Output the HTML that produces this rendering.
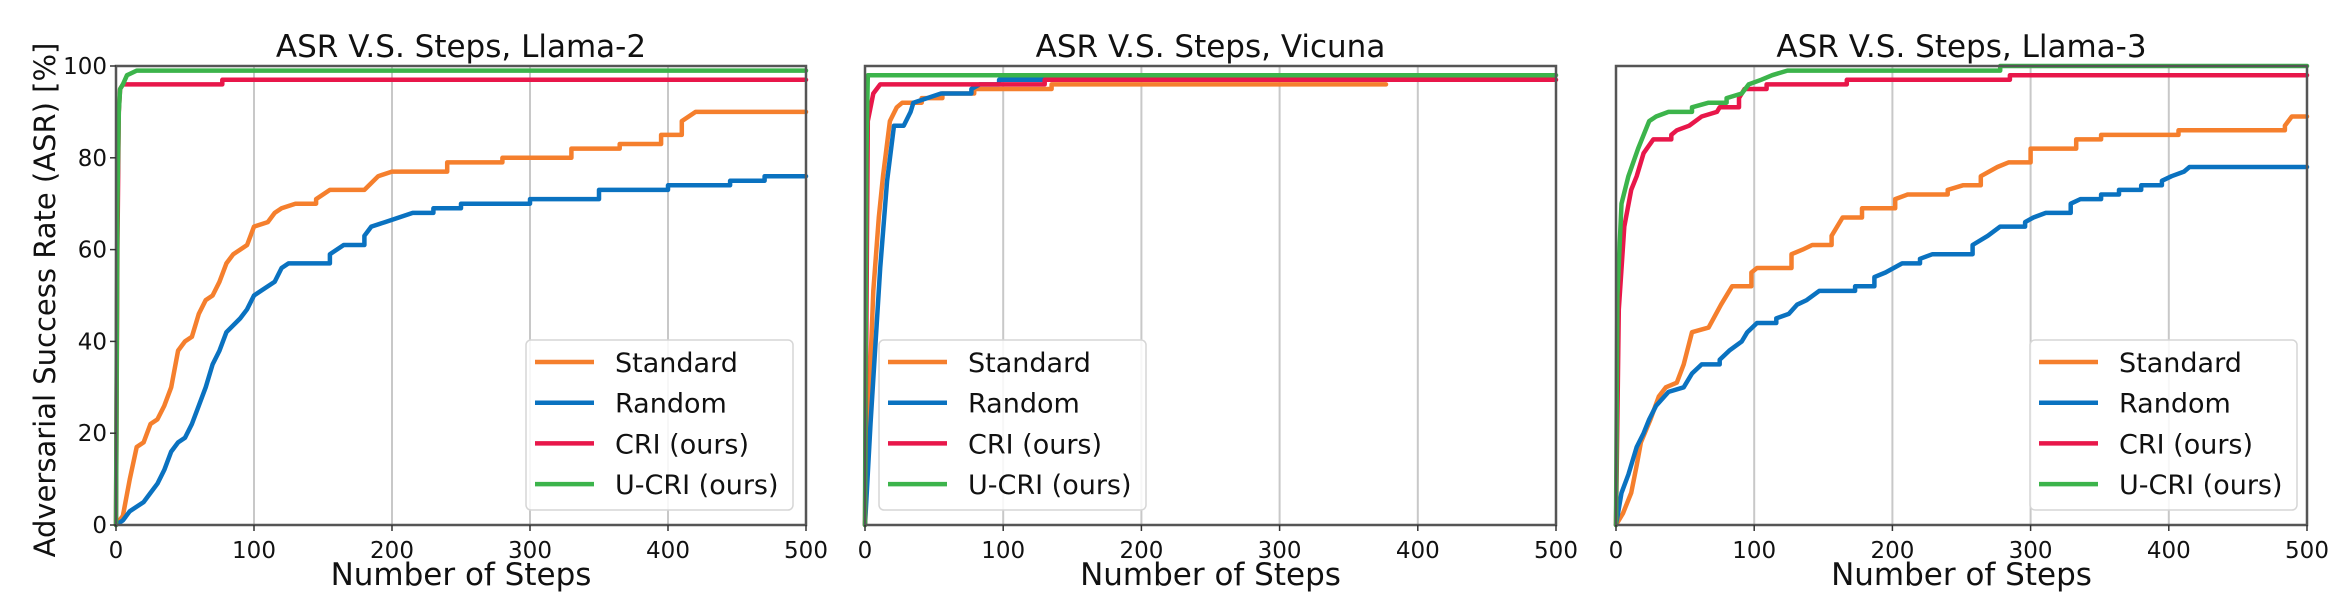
<!DOCTYPE html>
<html><head><meta charset="utf-8"><style>
html,body{margin:0;padding:0;background:#fff;}
svg{display:block;font-family:"DejaVu Sans","Liberation Sans",sans-serif;}
</style></head><body>
<svg id="chart" width="2346" height="608" viewBox="0 0 2346 608" xmlns="http://www.w3.org/2000/svg"></svg>
<script>
// ---- data ----
const xTicks = [0,100,200,300,400,500];
const yTicks = [0,20,40,60,80,100];
const seriesNames = ["Standard","Random","CRI (ours)","U-CRI (ours)"];
const panelTitles = ["ASR V.S. Steps, Llama-2","ASR V.S. Steps, Vicuna","ASR V.S. Steps, Llama-3"];

// Llama-2
const l2StdSteps = [0,5,10,15,20,25,30,35,40,45,50,55,60,65,70,75,80,85,90,95,100,110,115,120,130,145,155,180,190,200,240,280,330,365,395,410,420,500];
const l2StdVals  = [0,2,10,17,18,22,23,26,30,38,40,41,46,49,50,53,57,59,60,61,65,66,68,69,70,71,73,73,76,77,79,80,82,83,85,88,90,90];
const l2RndSteps = [0,5,10,20,25,30,35,40,45,50,55,60,65,70,75,80,90,95,100,105,115,120,125,155,165,180,185,195,205,215,230,250,300,350,400,445,470,500];
const l2RndVals  = [0,1,3,5,7,9,12,16,18,19,22,26,30,35,38,42,45,47,50,51,53,56,57,59,61,63,65,66,67,68,69,70,71,73,74,75,76,76];
const l2CriSteps = [0,1,2,3,5,77,500];
const l2CriVals  = [0,60,90,95,96,97,97];
const l2UcriSteps = [0,1,2,3,5,8,15,500];
const l2UcriVals  = [0,70,90,95,96,98,99,99];

// Vicuna
const vcStdSteps = [0,2,6,10,13,18,23,27,41,56,79,135,377];
const vcStdVals  = [0,20,51,67,76,88,91,92,93,94,95,96,96];
const vcRndSteps = [0,4,11,16,21,28,33,35,45,55,77,83,97,130];
const vcRndVals  = [0,22,56,75,87,87,90,92,93,94,95,96,97,97];
const vcCriSteps = [0,2,6,11,130,500];
const vcCriVals  = [0,88,94,96,97,97];
const vcUcriSteps = [0,1,2,500];
const vcUcriVals  = [0,80,98,98];

// Llama-3
const l3StdSteps = [0,5,11,15,18,25,31,36,44,49,55,67,76,84,98,102,127,135,142,156,164,178,202,211,240,251,264,276,284,300,333,351,407,484,489,500];
const l3StdVals  = [0,2.5,7,13,18,23,28,30,31,35,42,43,48,52,55,56,59,60,61,63,67,69,71,72,73,74,76,78,79,82,84,85,86,87,89,89];
const l3RndSteps = [0,4,9,15,20,24,29,38,49,55,62,75,82,91,95,102,116,125,131,138,147,173,187,195,207,220,229,258,269,278,296,302,311,329,336,351,364,380,395,402,411,415,500];
const l3RndVals  = [0,7,11,17,20,23,26,29,30,33,35,36,38,40,42,44,45,46,48,49,51,52,54,55,57,58,59,61,63,65,66,67,68,70,71,72,73,74,75,76,77,78,78];
const l3CriSteps = [0,2,6,11,15,20,27,40,44,53,62,73,75,89,93,109,167,285,500];
const l3CriVals  = [0,47,65,73,76,81,84,85,86,87,89,90,91,93,95,96,97,98,98];
const l3UcriSteps = [0,1,4,9,16,24,29,38,55,67,80,91,96,105,113,124,278,500];
const l3UcriVals  = [0,50,70,76,82,88,89,90,91,92,93,94,96,97,98,99,100,100];

const colors = ["#f57f2d","#0a72c0","#e8174a","#3cb44b"];
const panels = [
  {left:116,right:806,legendLeft:526,series:[[l2StdSteps,l2StdVals],[l2RndSteps,l2RndVals],[l2CriSteps,l2CriVals],[l2UcriSteps,l2UcriVals]]},
  {left:865,right:1556,legendLeft:879,series:[[vcStdSteps,vcStdVals],[vcRndSteps,vcRndVals],[vcCriSteps,vcCriVals],[vcUcriSteps,vcUcriVals]]},
  {left:1616,right:2307,legendLeft:2030,series:[[l3StdSteps,l3StdVals],[l3RndSteps,l3RndVals],[l3CriSteps,l3CriVals],[l3UcriSteps,l3UcriVals]]}
];
const TOP=66, BOTTOM=525;
const NS="http://www.w3.org/2000/svg";
const svg=document.getElementById('chart');
function mk(tag,attrs,parent){const e=document.createElementNS(NS,tag);for(const k in attrs)e.setAttribute(k,attrs[k]);(parent||svg).appendChild(e);return e;}
function yScale(v){return BOTTOM-(v/100)*(BOTTOM-TOP);}

panels.forEach((p,pi)=>{
  const xs=s=>p.left+(s/500)*(p.right-p.left);
  const g=mk('g',{});
  
  
  xTicks.slice(1,5).forEach(t=>{
    const l=mk('line',{x1:xs(t),x2:xs(t),y1:TOP,y2:BOTTOM,stroke:'#c8c8c8','stroke-width':2},g);
    
    
  });
  p.series.forEach((sr,si)=>{
    const [st,vl]=sr;
    let d='M'+xs(st[0]).toFixed(1)+','+yScale(vl[0]).toFixed(1);
    for(let i=1;i<st.length;i++){
      const dx=st[i]-st[i-1];
      if(dx>12){d+=' L'+xs(st[i]).toFixed(1)+','+yScale(vl[i-1]).toFixed(1);}
      d+=' L'+xs(st[i]).toFixed(1)+','+yScale(vl[i]).toFixed(1);
    }
    const path=mk('path',{d:d,fill:'none',stroke:colors[si],'stroke-width':4.5,'stroke-linejoin':'round','stroke-linecap':'round'},g);
    
    
  });
  const fr=mk('rect',{x:p.left,y:TOP,width:p.right-p.left,height:BOTTOM-TOP,fill:'none',stroke:'#555','stroke-width':2.5},g);
  
  
  xTicks.forEach(t=>{
    mk('line',{x1:xs(t),x2:xs(t),y1:BOTTOM,y2:BOTTOM+6,stroke:'#333','stroke-width':1.5},g);
    const tx=mk('text',{x:xs(t),y:BOTTOM+33,'font-size':23,'text-anchor':'middle',fill:'#111'},g);
    tx.textContent=t;
    
    
  });
  if(pi===0){
    yTicks.forEach(t=>{
      mk('line',{x1:p.left-6,x2:p.left,y1:yScale(t),y2:yScale(t),stroke:'#333','stroke-width':1.5},g);
      const ty=mk('text',{x:p.left-9,y:yScale(t)+8,'font-size':23,'text-anchor':'end',fill:'#111'},g);
      ty.textContent=t;
      
      
    });
  }
  const cx=(p.left+p.right)/2;
  const tt=mk('text',{x:cx,y:57,'font-size':31,'text-anchor':'middle',fill:'#111'},g);
  tt.textContent=panelTitles[pi];
  
  
  const xl=mk('text',{x:cx,y:585,'font-size':31,'text-anchor':'middle',fill:'#111'},g);
  xl.textContent='Number of Steps';
  
  
  const lg=mk('g',{},g);
  
  
  mk('rect',{x:p.legendLeft,y:340,width:267,height:170,rx:5,fill:'rgba(255,255,255,0.85)',stroke:'#d6d6d6','stroke-width':1.5},lg);
  seriesNames.forEach((n,si)=>{
    const ey=362+si*40.7;
    const ent=mk('g',{},lg);
    
    
    mk('line',{x1:p.legendLeft+9,x2:p.legendLeft+68,y1:ey,y2:ey,stroke:colors[si],'stroke-width':4.5},ent);
    const et=mk('text',{x:p.legendLeft+89,y:ey+10,'font-size':27,fill:'#111'},ent);
    et.textContent=n;
  });
});
const yl=mk('text',{x:0,y:0,'font-size':29,'text-anchor':'middle',fill:'#111',transform:'translate(55,300) rotate(-90)'});
yl.textContent='Adversarial Success Rate (ASR) [%]';


</script>
</body></html>
